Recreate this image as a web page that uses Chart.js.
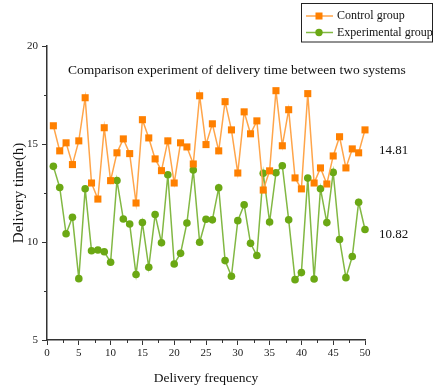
<!DOCTYPE html>
<html><head><meta charset="utf-8">
<style>html,body{margin:0;padding:0;background:#fff;}</style>
<script src="https://cdn.jsdelivr.net/npm/chart.js@4/dist/chart.umd.min.js"></script>
</head><body>
<canvas id="c" width="434" height="389" style="display:block;width:434px;height:389px"></canvas>
<script>
const deliveryFrequency = Array.from({length: 50}, (_, i) => i + 1);
const controlGroup = [15.93,14.65,15.06,13.95,15.16,17.36,13.01,12.19,15.83,13.13,14.55,15.26,14.51,11.99,16.24,15.31,14.24,13.64,15.16,13.01,15.06,14.85,13.98,17.46,14.97,16.03,14.65,17.16,15.72,13.52,16.64,15.52,16.18,12.65,13.63,17.72,14.91,16.75,13.27,12.71,17.57,13.01,13.78,12.96,14.39,15.37,13.78,14.75,14.55,15.72];
const experimentalGroup = [13.86,12.78,10.42,11.26,8.13,12.72,9.55,9.59,9.50,8.97,13.14,11.17,10.92,8.34,10.99,8.71,11.40,9.96,13.43,8.88,9.42,10.97,13.67,9.99,11.16,11.13,12.77,9.05,8.25,11.09,11.90,9.93,9.31,13.51,11.02,13.53,13.89,11.13,8.08,8.44,13.26,8.11,12.72,10.99,13.55,10.13,8.18,9.26,12.03,10.64];
const seriesNames = ['Control group', 'Experimental group'];
const averageLabels = ['14.81', '10.82'];
const averageValues = [14.81, 10.82];
const xRange = [0, 50];
const yRange = [5, 20];
const tickStep = 5;

const SERIF = '"Liberation Serif", "Times New Roman", serif';
const ORANGE = '#FF8000', ORANGE_LINE = '#FFA54A';
const GREEN = '#6BA814', GREEN_LINE = '#82B843';
const AXIS = '#333333';

const extras = {
  id: 'extras',
  afterDraw(chart) {
    const ctx = chart.ctx, a = chart.chartArea;
    const xs = chart.scales.x, ys = chart.scales.y;
    ctx.save();
    // minor ticks
    ctx.strokeStyle = AXIS; ctx.lineWidth = 1;
    ctx.beginPath();
    for (let v = xRange[0] + tickStep / 2; v < xRange[1]; v += tickStep) {
      const px = Math.round(xs.getPixelForValue(v)) + 0.5;
      ctx.moveTo(px, a.bottom); ctx.lineTo(px, a.bottom + 3);
    }
    for (let v = yRange[0] + tickStep / 2; v < yRange[1]; v += tickStep) {
      const py = Math.round(ys.getPixelForValue(v)) + 0.5;
      ctx.moveTo(a.left - 3, py); ctx.lineTo(a.left, py);
    }
    ctx.stroke();
    // title inside plot
    ctx.fillStyle = '#111';
    ctx.font = '13.5px ' + SERIF;
    ctx.textAlign = 'left'; ctx.textBaseline = 'middle';
    ctx.fillText('Comparison experiment of delivery time between two systems', a.left + 21, a.top + 24);
    // average annotations
    ctx.font = '13px ' + SERIF;
    const offs = [3, 9];
    averageLabels.forEach((t, i) => {
      ctx.fillText(t, a.right + 14, ys.getPixelForValue(averageValues[i]) + offs[i]);
    });
    // legend
    ctx.strokeStyle = '#222'; ctx.lineWidth = 1;
    ctx.strokeRect(301.5, 3.5, 131, 38.5);
    const rows = [16, 32.5];
    chart.data.datasets.forEach((ds, i) => {
      const y = rows[i];
      ctx.strokeStyle = ds.borderColor; ctx.lineWidth = 1.5;
      ctx.beginPath(); ctx.moveTo(306, y); ctx.lineTo(333, y); ctx.stroke();
      ctx.fillStyle = ds.pointBackgroundColor;
      if (ds.pointStyle === 'rect') { ctx.fillRect(315.5, y - 3.5, 7, 7); }
      else { ctx.beginPath(); ctx.arc(319, y, 3.7, 0, Math.PI * 2); ctx.fill(); }
      ctx.fillStyle = '#111'; ctx.font = '12px ' + SERIF;
      ctx.fillText(ds.label, 337, y);
    });
    ctx.restore();
  }
};

new Chart(document.getElementById('c'), {
  type: 'line',
  data: {
    datasets: [
      { label: seriesNames[0], data: deliveryFrequency.map((x, i) => ({x, y: controlGroup[i]})),
        borderColor: ORANGE_LINE, backgroundColor: ORANGE, pointBackgroundColor: ORANGE, pointBorderColor: ORANGE,
        pointStyle: 'rect', pointRadius: 5, pointBorderWidth: 0, borderWidth: 1.5, tension: 0, clip: false },
      { label: seriesNames[1], data: deliveryFrequency.map((x, i) => ({x, y: experimentalGroup[i]})),
        borderColor: GREEN_LINE, backgroundColor: GREEN, pointBackgroundColor: GREEN, pointBorderColor: GREEN,
        pointStyle: 'circle', pointRadius: 3.8, pointBorderWidth: 0, borderWidth: 1.5, tension: 0, clip: false }
    ]
  },
  options: {
    responsive: false, animation: false, devicePixelRatio: 1,
    layout: { padding: { left: 0, right: 69, top: 46, bottom: 0 } },
    plugins: { legend: { display: false }, tooltip: { enabled: false } },
    scales: {
      x: { type: 'linear', min: xRange[0], max: xRange[1],
        afterFit: s => { s.height = 49; },
        ticks: { stepSize: tickStep, font: { family: SERIF, size: 11 }, color: '#222', padding: 2, maxRotation: 0 },
        grid: { drawOnChartArea: false, tickLength: 5, tickColor: AXIS, tickWidth: 1 },
        border: { color: AXIS, width: 1.5 },
        title: { display: true, text: 'Delivery frequency', font: { family: SERIF, size: 13.5 }, color: '#111', padding: { top: 0, bottom: 2 } } },
      y: { type: 'linear', min: yRange[0], max: yRange[1],
        afterFit: s => { s.width = 47; },
        ticks: { stepSize: tickStep, font: { family: SERIF, size: 11 }, color: '#222', padding: 4 },
        grid: { drawOnChartArea: false, tickLength: 5, tickColor: AXIS, tickWidth: 1 },
        border: { color: AXIS, width: 1.5 },
        title: { display: true, text: 'Delivery time(h)', font: { family: SERIF, size: 15 }, color: '#111', padding: { top: 10, bottom: 0 } } }
    }
  },
  plugins: [extras]
});
</script>
</body></html>
